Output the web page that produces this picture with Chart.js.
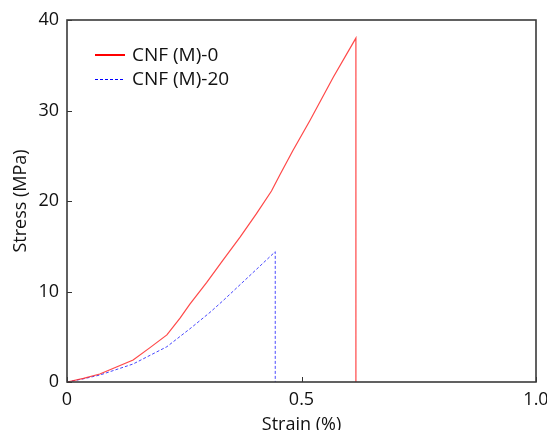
<!DOCTYPE html>
<html>
<head>
<meta charset="utf-8">
<script src="https://cdn.jsdelivr.net/npm/chart.js@4/dist/chart.umd.min.js"></script>
<style>
  html, body { margin: 0; padding: 0; background: #ffffff; }
  #wrap { width: 547px; height: 430px; }
</style>
</head>
<body>
<div id="wrap"><canvas id="stress_graph" width="547" height="430"></canvas></div>
<script>
// strain (%) / stress (MPa)
var strain_m0 = [0, 0.035, 0.070, 0.141, 0.177, 0.213, 0.241, 0.262, 0.298, 0.333, 0.369, 0.404, 0.436, 0.454, 0.482, 0.518, 0.568, 0.616, 0.616];
var stress_m0 = [0, 0.4, 0.88, 2.43, 3.8, 5.2, 7.05, 8.6, 11.0, 13.5, 16.0, 18.6, 21.1, 22.9, 25.6, 28.9, 33.7, 38.0, 0];

var strain_m20 = [0, 0.035, 0.070, 0.141, 0.213, 0.265, 0.305, 0.333, 0.369, 0.404, 0.444, 0.444];
var stress_m20 = [0, 0.35, 0.77, 1.99, 3.9, 6.0, 7.7, 9.0, 10.75, 12.45, 14.4, 0];

var series_labels = ["CNF (M)-0", "CNF (M)-20"];
var x_ticks = [0, 0.5, 1.0];
var x_tick_labels = ["0", "0.5", "1.0"];
var y_ticks = [0, 10, 20, 30, 40];

function toPoints(xs, ys) {
    var pts = [];
    for (var i = 0; i < xs.length; i++) {
        pts.push({ x: xs[i], y: ys[i] });
    }
    return pts;
}

var font_family = "'Open Sans', 'Noto Sans', sans-serif";

// matlab-ish frame, inward ticks and legend inside the axes
var boxPlugin = {
    id: "boxPlugin",
    afterDraw: function(chart) {
        var ctx = chart.ctx;
        var area = chart.chartArea;
        var xs = chart.scales.x;
        var ys = chart.scales.y;
        ctx.save();

        ctx.strokeStyle = "#333333";
        ctx.lineWidth = 1;
        ctx.beginPath();
        for (var i = 0; i < x_ticks.length; i++) {
            var px = Math.round(xs.getPixelForValue(x_ticks[i])) + 0.5;
            ctx.moveTo(px, area.bottom);
            ctx.lineTo(px, area.bottom - 5);
        }
        for (var j = 0; j < y_ticks.length; j++) {
            var py = Math.round(ys.getPixelForValue(y_ticks[j])) + 0.5;
            ctx.moveTo(area.left, py);
            ctx.lineTo(area.left + 5, py);
        }
        ctx.stroke();

        ctx.strokeStyle = "#3a3a3a";
        ctx.lineWidth = 1.6;
        ctx.strokeRect(area.left, area.top, area.right - area.left, area.bottom - area.top);

        // legend
        var lx = area.left + 28;
        var ly = area.top + 35;
        ctx.font = "19px " + font_family;
        ctx.textBaseline = "middle";
        ctx.fillStyle = "#111111";

        ctx.strokeStyle = "#ff0000";
        ctx.lineWidth = 2;
        ctx.beginPath();
        ctx.moveTo(lx, ly);
        ctx.lineTo(lx + 30, ly);
        ctx.stroke();
        ctx.fillText(series_labels[0], lx + 37, ly + 1);

        ctx.strokeStyle = "#0000ff";
        ctx.lineWidth = 1;
        ctx.setLineDash([3, 2]);
        ctx.beginPath();
        ctx.moveTo(lx, ly + 24.5);
        ctx.lineTo(lx + 30, ly + 24.5);
        ctx.stroke();
        ctx.setLineDash([]);
        ctx.fillText(series_labels[1], lx + 37, ly + 25);

        ctx.restore();
    }
};

var ctx = document.getElementById("stress_graph");

var graph_data = {
    datasets: [
        {
            label: series_labels[0],
            data: toPoints(strain_m0, stress_m0),
            borderColor: "rgba(255,40,40,0.85)",
            borderWidth: 1.2,
            showLine: true,
            fill: false,
            tension: 0,
            pointRadius: 0
        },
        {
            label: series_labels[1],
            data: toPoints(strain_m20, stress_m20),
            borderColor: "rgba(40,40,255,0.85)",
            borderWidth: 1,
            borderDash: [3, 2],
            showLine: true,
            fill: false,
            tension: 0,
            pointRadius: 0
        }
    ]
};

var options = {
    responsive: false,
    animation: false,
    layout: { padding: { top: 20, right: 11, left: 0, bottom: 0 } },
    plugins: {
        legend: { display: false },
        tooltip: { enabled: false }
    },
    scales: {
        x: {
            type: "linear",
            min: 0,
            max: 1,
            afterBuildTicks: function(scale) {
                scale.ticks = x_ticks.map(function(v) { return { value: v }; });
            },
            afterFit: function(scale) {
                scale.height = 48;
                scale.paddingLeft = 0;
                scale.paddingRight = 0;
            },
            grid: { display: false, drawTicks: false },
            border: { display: false },
            ticks: {
                padding: 7,
                color: "#111111",
                font: { family: font_family, size: 18 },
                callback: function(value, index) { return x_tick_labels[index]; }
            },
            title: {
                display: true,
                text: "Strain (%)",
                color: "#111111",
                padding: { top: 0, bottom: -6 },
                font: { family: font_family, size: 18 }
            }
        },
        y: {
            type: "linear",
            min: 0,
            max: 40,
            afterBuildTicks: function(scale) {
                scale.ticks = y_ticks.map(function(v) { return { value: v }; });
            },
            afterFit: function(scale) {
                scale.width = 67;
                scale.paddingTop = 0;
                scale.paddingBottom = 0;
            },
            grid: { display: false, drawTicks: false },
            border: { display: false },
            ticks: {
                padding: 8,
                color: "#111111",
                font: { family: font_family, size: 18 }
            },
            title: {
                display: true,
                text: "Stress (MPa)",
                color: "#111111",
                padding: { top: 10, bottom: 0 },
                font: { family: font_family, size: 18 }
            }
        }
    }
};

var chart = new Chart(ctx, {
    type: "scatter",
    data: graph_data,
    options: options,
    plugins: [boxPlugin]
});
</script>
</body>
</html>
